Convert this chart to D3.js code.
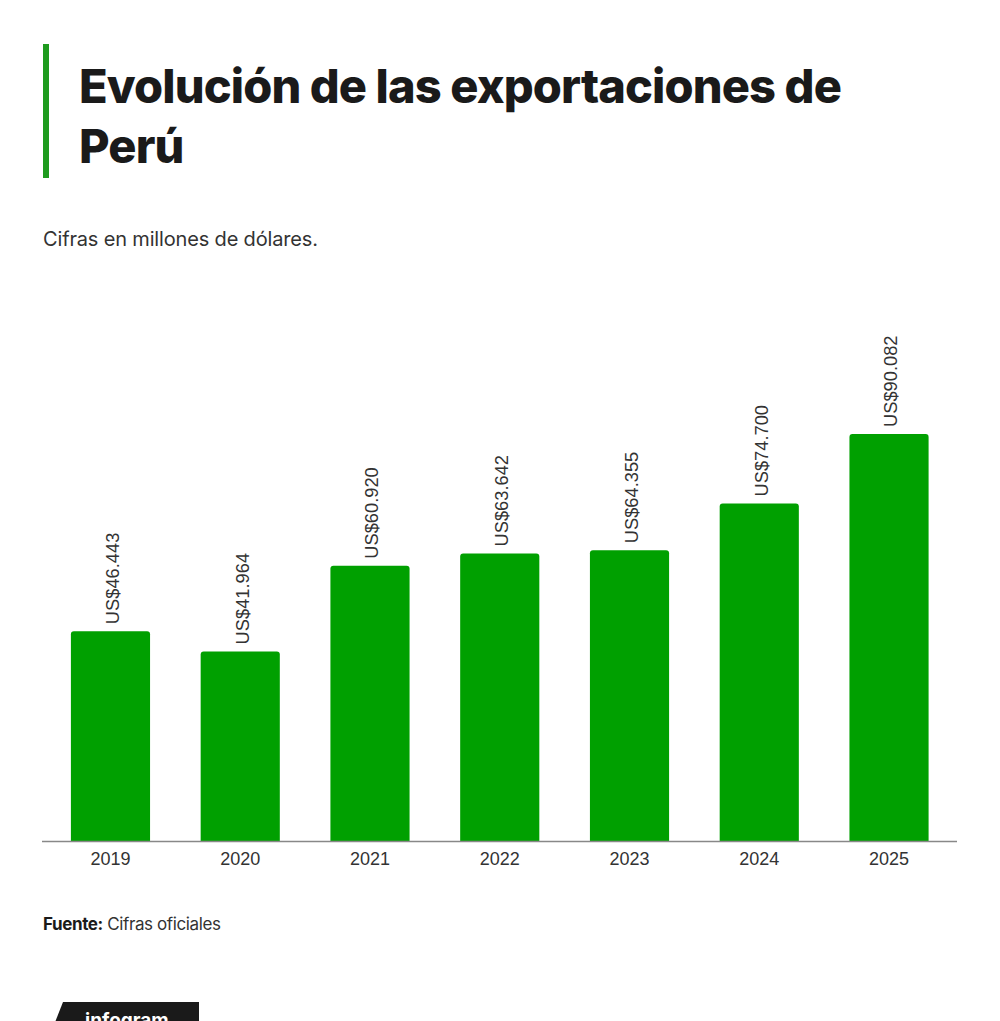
<!DOCTYPE html>
<html>
<head>
<meta charset="utf-8">
<script src="https://cdn.jsdelivr.net/npm/d3@7"></script>
<style>
  html, body { margin: 0; padding: 0; background: #fff; }
  svg { display: block; }
</style>
</head>
<body>
<script>
const years = ["2019", "2020", "2021", "2022", "2023", "2024", "2025"];
const exportsValues = [46443, 41964, 60920, 63642, 64355, 74700, 90082];
const valueLabels = ["US$46.443", "US$41.964", "US$60.920", "US$63.642", "US$64.355", "US$74.700", "US$90.082"];
const titleLines = ["Evolución de las exportaciones de", "Perú"];
const subtitle = "Cifras en millones de dólares.";

const W = 1000, H = 1021;
const svg = d3.select("body").append("svg").attr("width", W).attr("height", H);

function fitWidth(sel, target) {
  const node = sel.node();
  const len = node.getComputedTextLength();
  const n = node.textContent.length;
  sel.attr("letter-spacing", ((target - len) / (n - 1)).toFixed(2));
}

// Accent bar
svg.append("rect").attr("x", 43).attr("y", 44).attr("width", 6).attr("height", 134).attr("fill", "#1e9b1e");

// Title
const title = svg.append("g");
titleLines.forEach((t, i) => {
  title.append("text")
    .attr("x", 79).attr("y", 103 + i * 60)
    .attr("font-family", "Inter, sans-serif").attr("font-weight", 800)
    .attr("font-size", 47).attr("fill", "#1a1a1a")
    .text(t);
});
(function fit() {
  const nodes = title.selectAll("text").nodes();
  const len = nodes[0].getComputedTextLength();
  const ls = (763 - len) / (titleLines[0].length - 1);
  nodes.forEach(nd => nd.setAttribute("letter-spacing", ls.toFixed(2)));
})();

// Subtitle
const sub = svg.append("text")
  .attr("x", 43).attr("y", 246)
  .attr("font-family", "Inter, sans-serif").attr("font-weight", 400)
  .attr("font-size", 20).attr("fill", "#333")
  .text(subtitle);
fitWidth(sub, 275);

// Scales
const x = d3.scaleBand().domain(years).range([45.6, 953.9]).paddingInner(0.39).paddingOuter(0.195);
const y = d3.scaleLinear().domain([0, 100000]).range([841, 389.2]);

const r = 3;
function barPath(x0, y0, w, y1) {
  return `M${x0},${y1}V${y0 + r}Q${x0},${y0} ${x0 + r},${y0}H${x0 + w - r}Q${x0 + w},${y0} ${x0 + w},${y0 + r}V${y1}Z`;
}

svg.append("g").selectAll("path").data(years).join("path")
  .attr("d", (d, i) => barPath(x(d), y(exportsValues[i]), x.bandwidth(), y(0)))
  .attr("fill", "#00a000");

// Value labels
svg.append("g").selectAll("text").data(years).join("text")
  .attr("transform", (d, i) => `translate(${x(d) + x.bandwidth() / 2 + 2},${y(exportsValues[i]) - 7}) rotate(-90)`)
  .attr("dy", "0.35em")
  .attr("text-anchor", "start")
  .attr("font-family", "'Liberation Sans', Arial, sans-serif")
  .attr("font-size", 18.3).attr("fill", "#333")
  .text((d, i) => valueLabels[i]);

// X axis
const xAxis = svg.append("g").attr("transform", `translate(0,${y(0)})`)
  .call(d3.axisBottom(x).tickSize(0).tickPadding(11));
xAxis.select(".domain").remove();
xAxis.selectAll("text")
  .attr("font-family", "'Liberation Sans', Arial, sans-serif")
  .attr("font-size", 18).attr("fill", "#333");
svg.append("line").attr("x1", 42).attr("x2", 957).attr("y1", y(0) + 0.5).attr("y2", y(0) + 0.5)
  .attr("stroke", "#888").attr("stroke-width", 1.5);

// Source
const src = svg.append("text").attr("x", 43).attr("y", 930)
  .attr("font-family", "Inter, sans-serif").attr("font-size", 17).attr("fill", "#333");
src.append("tspan").attr("font-weight", 700).attr("fill", "#1a1a1a").text("Fuente:");
src.append("tspan").text(" Cifras oficiales");
fitWidth(src, 178);

// infogram badge
svg.append("path").attr("d", "M63,1002H199V1030H52Z").attr("fill", "#1a1a1a");
svg.append("text").attr("x", 85).attr("y", 1027)
  .attr("font-family", "Inter, sans-serif").attr("font-weight", 700).attr("font-size", 19)
  .attr("fill", "#fff").text("infogram");
</script>
</body>
</html>
